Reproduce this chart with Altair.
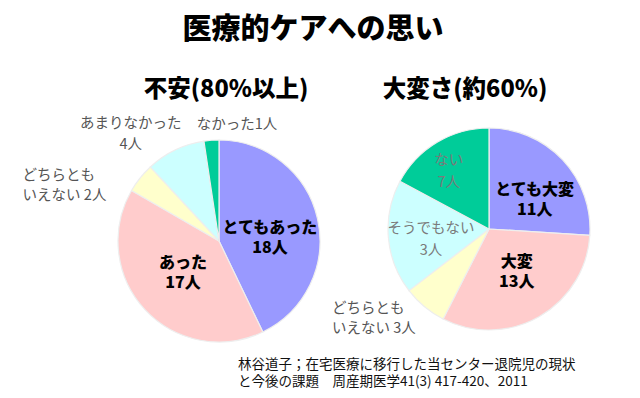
import math
import altair as alt
import pandas as pd

# ---------------- data ----------------
title_text = "医療的ケアへの思い"
left_title = "不安(80%以上)"
right_title = "大変さ(約60%)"

left_categories = ["とてもあった", "あった", "どちらともいえない", "あまりなかった", "なかった"]
left_values = [18, 17, 2, 4, 1]
left_labels = ["とてもあった\n18人", "あった\n17人", "どちらとも\nいえない 2人", "あまりなかった\n4人", "なかった1人"]

right_categories = ["とても大変", "大変", "どちらともいえない", "そうでもない", "ない"]
right_values = [11, 13, 3, 3, 7]          # counts written on the chart
right_drawn = [93.6, 113.4, 25.4, 65.8, 61.8]  # slice sizes as drawn in the picture (degrees)
right_labels = ["とても大変\n11人", "大変\n13人", "どちらとも\nいえない 3人", "そうでもない\n3人", "ない\n7人"]

citation = ["林谷道子；在宅医療に移行した当センター退院児の現状",
            "と今後の課題　周産期医学41(3) 417-420、2011"]

# ---------------- style / layout ----------------
palette = ["#9999FF", "#FFCCCC", "#FFFFCC", "#CCFFFF", "#00CC99"]
PIE_R = 101
left_center = (211, 233)
right_center = (481, 221)
# label placement: angle nudge from slice middle (deg), distance from centre (px), style
left_nudge = [9.5, 1.3, -22.9, -14.0, 13.1]
left_dist = [51, 48, 204, 138, 117]
left_style = ["bold", "bold", "left", "outer", "single"]
right_nudge = [11.0, -3.4, 20.5, -6.0, -4.2]
right_dist = [54, 51, 181, 59, 70]
right_style = ["bold", "bold", "left", "grey", "grey"]

FONT = "Noto Sans CJK JP"


def build(cats, vals, labels, nudge, dist, style):
    total = sum(vals)
    rows, cum = [], 0
    for i, (c, v) in enumerate(zip(cats, vals)):
        mid = (cum + v / 2) / total * 2 * math.pi
        rows.append(dict(slot=i, category=c, value=v, label=labels[i],
                         t=mid + math.radians(nudge[i]), r=dist[i], style=style[i]))
        cum += v
    return pd.DataFrame(rows)


df_left = build(left_categories, left_values, left_labels, left_nudge, left_dist, left_style)
df_right = build(right_categories, right_drawn, right_labels, right_nudge, right_dist, right_style)
df_right["count"] = right_values

color = alt.Color("slot:N", scale=alt.Scale(domain=list(range(5)), range=palette), legend=None)


def pie(df, center):
    return alt.Chart(df).mark_arc(radius=PIE_R, stroke="#eeeeee", strokeWidth=1.2).encode(
        theta=alt.Theta("value:Q", stack=True),
        order=alt.Order("slot:Q"),
        color=color,
        x=alt.value(center[0]),
        y=alt.value(center[1]),
    )


text_styles = {
    "bold": dict(font=FONT, fontSize=16, fontWeight=900, color="#000000", align="center", lineHeight=20, dy=-10),
    "outer": dict(font=FONT, fontSize=14.5, color="#555555", align="center", lineHeight=21, dy=-10.5),
    "single": dict(font=FONT, fontSize=14.5, color="#555555", align="center"),
    "left": dict(font=FONT, fontSize=14.5, color="#555555", align="left", lineHeight=20, dy=-10),
    "grey": dict(font=FONT, fontSize=14.5, color="#7a7a7a", align="center", lineHeight=22, dy=-11),
}


def labels_layer(df, center, style):
    return alt.Chart(df).transform_filter(alt.datum.style == style).mark_text(
        baseline="middle", lineBreak="\n", **text_styles[style]
    ).encode(
        x=alt.value(center[0]),
        y=alt.value(center[1]),
        theta=alt.Theta("t:Q", scale=None, stack=False),
        radius=alt.Radius("r:Q", scale=None),
        text="label:N",
    )


def free_text(txt, x, y, **kw):
    return alt.Chart(pd.DataFrame({"txt": [txt]})).mark_text(baseline="middle", **kw).encode(
        text="txt:N", x=alt.value(x), y=alt.value(y)
    )


layers = [pie(df_left, left_center), pie(df_right, right_center)]
for s in ["bold", "outer", "single", "left"]:
    layers.append(labels_layer(df_left, left_center, s))
for s in ["bold", "left", "grey"]:
    layers.append(labels_layer(df_right, right_center, s))

layers += [
    free_text(title_text, 305, 22, font=FONT, fontSize=29, fontWeight=900, color="#000000", align="center"),
    free_text(left_title, 218, 82, font=FONT, fontSize=23.5, fontWeight=900, color="#000000", align="center"),
    free_text(right_title, 457, 82, font=FONT, fontSize=23.5, fontWeight=900, color="#000000", align="center"),
    free_text(citation[0], 230, 357, font=FONT, fontSize=13.5, color="#111111", align="left"),
    free_text(citation[1], 230, 374, font=FONT, fontSize=13.5, color="#111111", align="left"),
]

chart = alt.layer(*layers).resolve_scale(theta="independent").properties(
    width=624, height=382, autosize=alt.AutoSizeParams(type="none"), padding=0, background="white"
).configure_view(stroke=None)

chart.save("out.html", embed_options={"renderer": "svg", "actions": False})
